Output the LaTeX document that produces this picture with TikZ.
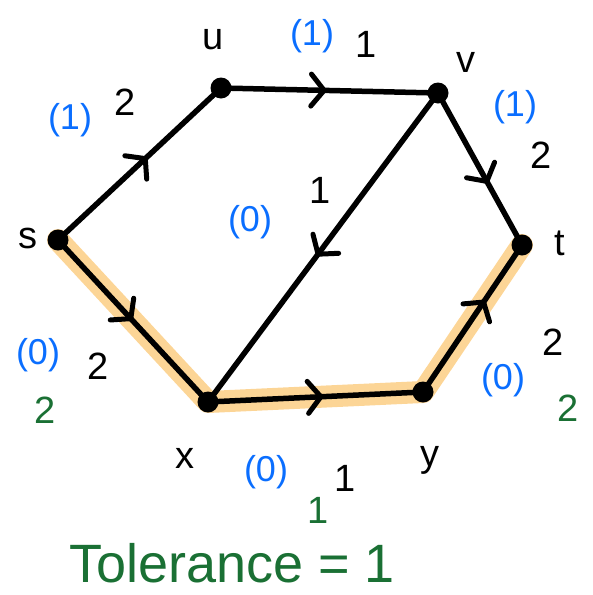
\documentclass[tikz,border=0pt]{standalone}
\usepackage{fontspec}
\setmainfont{Liberation Sans}
\usetikzlibrary{arrows.meta,decorations.markings}
\definecolor{hl}{HTML}{FCD596}
\definecolor{fb}{HTML}{0A6EFF}
\definecolor{fg}{HTML}{1A7034}
\tikzset{
  dot/.style={circle,fill=black,inner sep=0pt,minimum size=21pt},
  edge/.style={line width=5.5pt,line cap=round,line join=round},
  midarrow/.style={postaction={decorate},decoration={markings,
     mark=at position #1 with {\arrow[line width=5pt]{Straight Barb[length=13pt,width=32pt,line cap=round]}}}},
  hilite/.style={line width=22pt,hl,line cap=round,line join=round},
  vlab/.style={font=\fontsize{38}{38}\selectfont},
  wlab/.style={font=\fontsize{38}{38}\selectfont},
  flow/.style={font=\fontsize{36}{36}\selectfont,text=fb},
  tol/.style={font=\fontsize{38}{38}\selectfont,text=fg}
}
\begin{document}
\begin{tikzpicture}[x=1pt,y=-1pt]
\useasboundingbox (0,0) rectangle (593,595);
\coordinate (s) at (58,240);
\coordinate (u) at (221,88);
\coordinate (v) at (438,93);
\coordinate (t) at (522,245);
\coordinate (x) at (208,402);
\coordinate (y) at (423,392);
% highlight
\draw[hilite] (s) -- (x) -- (y) -- (t);
% edges
\draw[edge,midarrow=0.55] (s) -- (u);
\draw[edge,midarrow=0.49] (u) -- (v);
\draw[edge,midarrow=0.6] (v) -- (t);
\draw[edge,midarrow=0.53] (v) -- (x);
\draw[edge,midarrow=0.5] (s) -- (x);
\draw[edge,midarrow=0.54] (x) -- (y);
\draw[edge,midarrow=0.63] (y) -- (t);
% dots
\foreach \n in {s,u,v,t,x,y} \node[dot] (d\n) at (\n) {};
% vertex labels
\node[vlab] (ls) at (28,238) {s};
\node[vlab] (lu) at (213,40) {u};
\node[vlab] (lv) at (466,62) {v};
\node[vlab] (lt) at (560,243) {t};
\node[vlab] (lx) at (185,458) {x};
\node[vlab] (ly) at (430,460) {y};
% edge labels
\node[flow] (f1) at (70,120) {(1)};
\node[wlab] (w1) at (125,102) {2};
\node[flow] (f2) at (312,36) {(1)};
\node[wlab] (w2) at (366,44) {1};
\node[flow] (f3) at (515,107) {(1)};
\node[wlab] (w3) at (541,155) {2};
\node[flow] (f4) at (250,222) {(0)};
\node[wlab] (w4) at (320,190) {1};
\node[flow] (f5) at (38,355) {(0)};
\node[wlab] (w5) at (98,366) {2};
\node[tol] (g5) at (45,410) {2};
\node[flow] (f6) at (266,472) {(0)};
\node[wlab] (w6) at (345,478) {1};
\node[tol,inner sep=0pt] (g6) at (318,510) {1};
\node[flow] (f7) at (503,380) {(0)};
\node[wlab] (w7) at (553,342) {2};
\node[tol] (g7) at (568,408) {2};
\node[tol,font=\fontsize{54}{54}\selectfont,inner sep=0pt,anchor=base] (tolerance) at (232,582) {Tolerance = 1};
\end{tikzpicture}
\end{document}
